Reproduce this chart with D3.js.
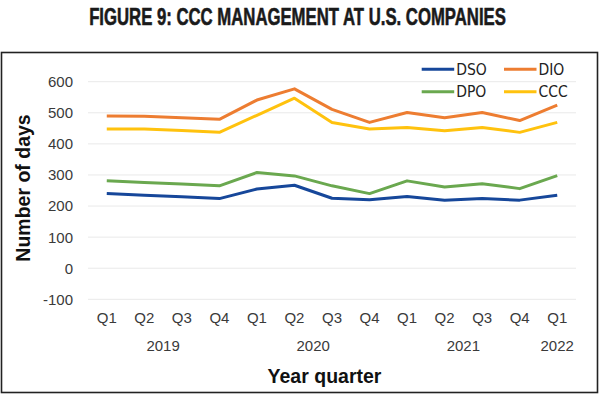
<!DOCTYPE html>
<html lang="en">
<head>
<meta charset="utf-8">
<title>CCC management</title>
<script src="https://cdn.jsdelivr.net/npm/d3@7"></script>
<style>
  body { margin: 0; background: #fff; }
  svg { display: block; }
</style>
</head>
<body>
<div id="chart"></div>
<script>
// values (days)
const quarters = ["Q1", "Q2", "Q3", "Q4", "Q1", "Q2", "Q3", "Q4", "Q1", "Q2", "Q3", "Q4", "Q1"];
const years = ["2019", "2020", "2021", "2022"];
const yearFirst = [0, 4, 8, 12];
const yearLast = [3, 7, 11, 12];
const dso = [240, 235, 230, 224, 255, 267, 225, 220, 231, 219, 224, 219, 235];
const dio = [490, 489, 484, 479, 541, 577, 511, 469, 501, 484, 501, 475, 525];
const dpo = [281, 276, 271, 265, 308, 297, 265, 240, 281, 261, 272, 256, 298];
const ccc = [448, 448, 443, 437, 492, 547, 469, 448, 453, 442, 453, 437, 469];
const yTicks = [-100, 0, 100, 200, 300, 400, 500, 600];

const series = [
  { name: "DSO", values: dso, color: "#16479a" },
  { name: "DIO", values: dio, color: "#ed7d31" },
  { name: "DPO", values: dpo, color: "#6aa84f" },
  { name: "CCC", values: ccc, color: "#ffc20e" }
];

const W = 600, H = 394;
const plot = { left: 88, right: 576, top: 81.7, bottom: 299.3 };
const tickFont = "'Liberation Sans', Arial, sans-serif";

const svg = d3.select("#chart").append("svg")
  .attr("width", W).attr("height", H);

// title: bold sans squeezed horizontally to look condensed
const titleG = svg.append("g");
const title = titleG.append("text")
  .attr("x", 0).attr("y", 16.3)
  .attr("dy", "0.36em")
  .attr("text-anchor", "middle")
  .style("font-family", tickFont)
  .style("font-weight", "bold")
  .style("font-size", "24px")
  .style("fill", "#1a1a1a")
  .style("stroke", "#1a1a1a")
  .style("stroke-width", 0.6)
  .text("FIGURE 9: CCC MANAGEMENT AT U.S. COMPANIES");
const tw = title.node().getComputedTextLength();
titleG.attr("transform", "translate(297.5,0) scale(" + (417 / tw) + ",1)");

// frame
svg.append("rect")
  .attr("x", 1.5).attr("y", 52.5)
  .attr("width", 596).attr("height", 340)
  .attr("fill", "none")
  .attr("stroke", "#222")
  .attr("stroke-width", 1.6);

const x = d3.scaleBand()
  .domain(d3.range(quarters.length))
  .range([plot.left, plot.right])
  .padding(0);
const cx = i => x(i) + x.bandwidth() / 2;

const y = d3.scaleLinear()
  .domain([-100, 600])
  .range([plot.bottom, plot.top]);

// gridlines
svg.append("g")
  .selectAll("line")
  .data(yTicks)
  .join("line")
  .attr("x1", plot.left).attr("x2", plot.right)
  .attr("y1", d => y(d)).attr("y2", d => y(d))
  .attr("stroke", "#e9e9e9")
  .attr("stroke-width", 1);

// y tick labels
svg.append("g")
  .selectAll("text")
  .data(yTicks)
  .join("text")
  .attr("x", 73).attr("y", d => y(d))
  .attr("dy", "0.36em")
  .attr("text-anchor", "end")
  .style("font-family", tickFont)
  .style("font-size", "15px")
  .style("fill", "#3a3a3a")
  .text(d => d);

// x tick labels
svg.append("g")
  .selectAll("text")
  .data(quarters)
  .join("text")
  .attr("x", (d, i) => cx(i)).attr("y", 317.5)
  .attr("dy", "0.36em")
  .attr("text-anchor", "middle")
  .style("font-family", tickFont)
  .style("font-size", "15px")
  .style("fill", "#3a3a3a")
  .text(d => d);

// year labels
svg.append("g")
  .selectAll("text")
  .data(years)
  .join("text")
  .attr("x", (d, i) => (cx(yearFirst[i]) + cx(yearLast[i])) / 2).attr("y", 346)
  .attr("dy", "0.36em")
  .attr("text-anchor", "middle")
  .style("font-family", tickFont)
  .style("font-size", "15px")
  .style("fill", "#3a3a3a")
  .text(d => d);

// axis titles
svg.append("text")
  .attr("transform", "translate(22.5,188) rotate(-90)")
  .attr("dy", "0.36em")
  .attr("text-anchor", "middle")
  .style("font-family", tickFont)
  .style("font-weight", "bold")
  .style("font-size", "19.5px")
  .style("fill", "#111")
  .text("Number of days");

svg.append("text")
  .attr("x", 324.5).attr("y", 376)
  .attr("dy", "0.36em")
  .attr("text-anchor", "middle")
  .style("font-family", tickFont)
  .style("font-weight", "bold")
  .style("font-size", "19.5px")
  .style("fill", "#111")
  .text("Year quarter");

// lines
const line = d3.line()
  .x((d, i) => cx(i))
  .y(d => y(d));

svg.append("g")
  .selectAll("path")
  .data(series)
  .join("path")
  .attr("d", d => line(d.values))
  .attr("fill", "none")
  .attr("stroke", d => d.color)
  .attr("stroke-width", 3)
  .attr("stroke-linejoin", "round");

// legend (2 x 2)
const legendX = [421.7, 504];
const legendY = [69.3, 91.7];
const legend = svg.append("g")
  .selectAll("g")
  .data(series)
  .join("g")
  .attr("transform", (d, i) => "translate(" + legendX[i % 2] + "," + legendY[Math.floor(i / 2)] + ")");

legend.append("line")
  .attr("x1", 0).attr("x2", 32.5)
  .attr("stroke", d => d.color)
  .attr("stroke-width", 3);

legend.append("text")
  .attr("x", 34.5)
  .attr("dy", "0.36em")
  .style("font-family", "'Liberation Sans Narrow', 'DejaVu Sans Condensed', sans-serif")
  .style("font-size", "15.5px")
  .style("fill", "#222")
  .text(d => d.name);
</script>
</body>
</html>
